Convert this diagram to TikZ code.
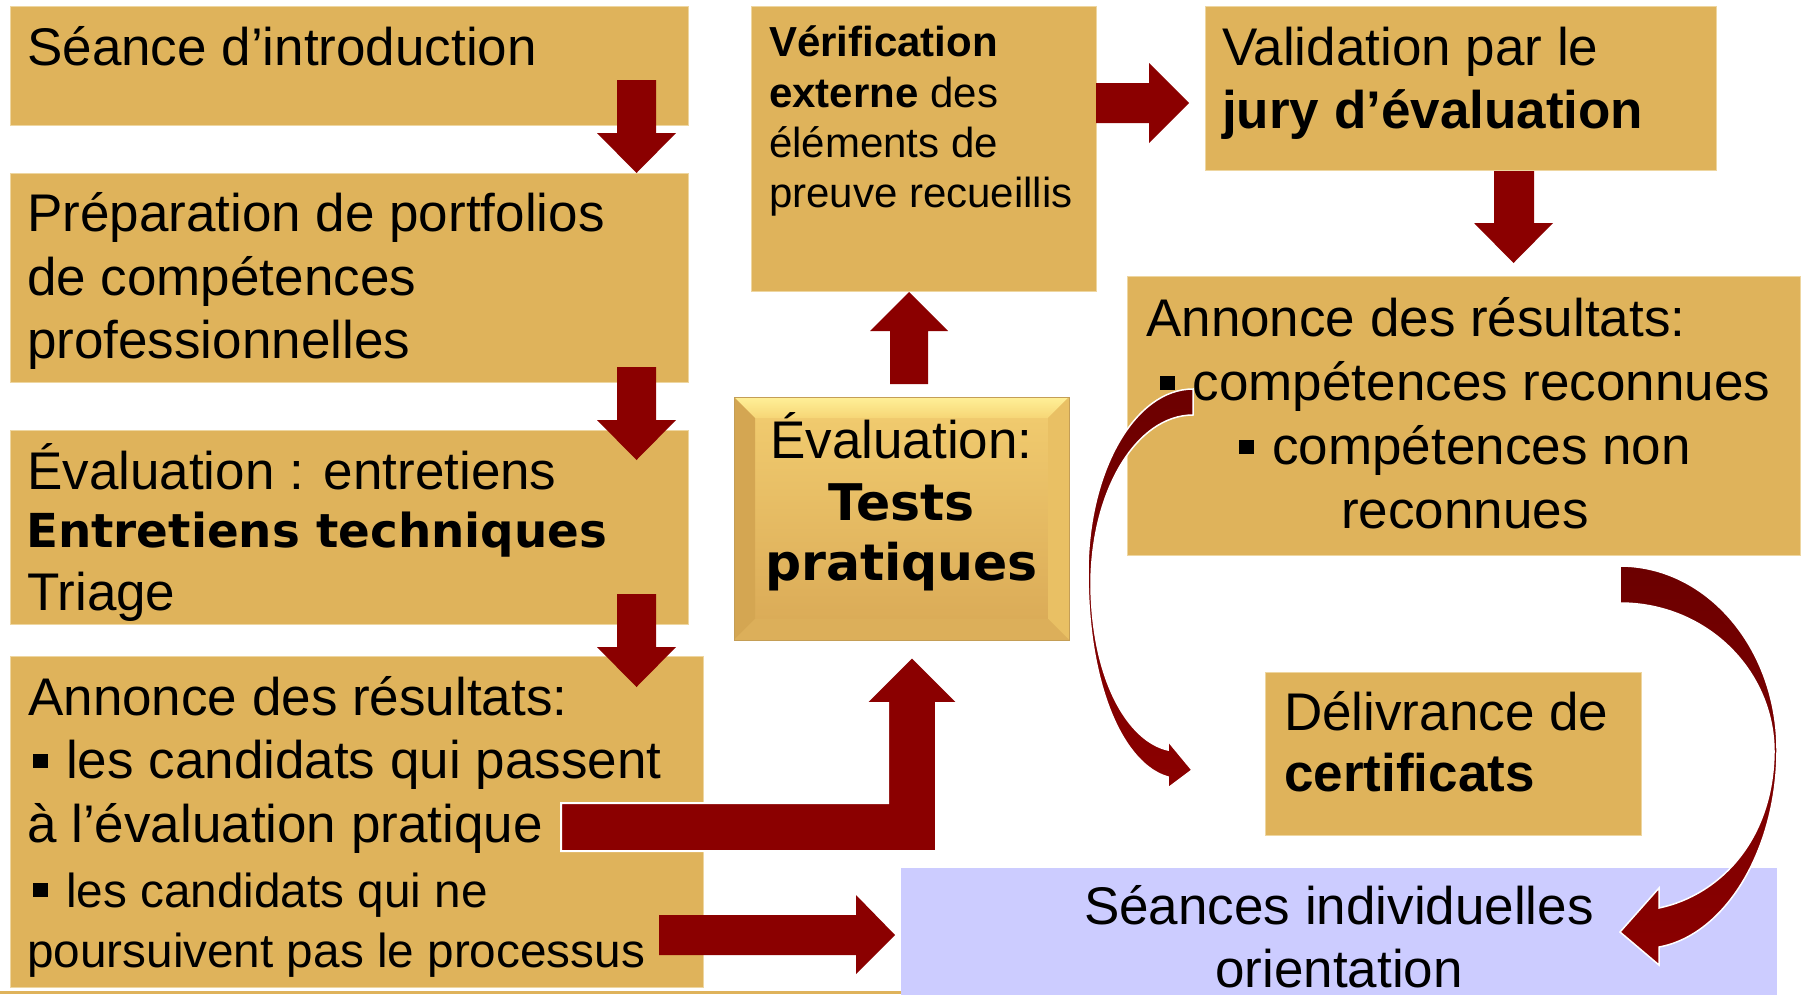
\documentclass[tikz,border=0pt]{standalone}
\usepackage{fontspec}
\setmainfont{Liberation Sans}
\newfontfamily\verdfont{DejaVu Sans}
\definecolor{gold}{RGB}{223,179,91}
\definecolor{goldedge}{RGB}{238,214,160}
\definecolor{lav}{RGB}{204,204,255}
\definecolor{dred}{RGB}{139,0,0}
\definecolor{mred}{RGB}{108,0,0}
\definecolor{evbase}{RGB}{226,184,96}
\definecolor{evfacetop}{RGB}{240,202,110}
\definecolor{evfacebot}{RGB}{219,172,88}
\definecolor{evtoptop}{RGB}{255,240,152}
\definecolor{evtopbot}{RGB}{246,214,118}
\definecolor{evleft}{RGB}{212,166,82}
\definecolor{evright}{RGB}{233,192,100}
\definecolor{evbottom}{RGB}{220,175,90}
\definecolor{evborder}{RGB}{196,158,86}
\newcommand\FMain{\fontsize{53}{63}\selectfont}
\newcommand\FSmall{\fontsize{47.7}{57}\selectfont}
\newcommand\FVer{\fontsize{42}{50}\selectfont}
\newcommand\FVerdA{\verdfont\bfseries\fontsize{46.8}{56}\selectfont}
\newcommand\FVerdB{\verdfont\bfseries\fontsize{50.5}{60}\selectfont}
\newcommand\SqBul{\rule[10.5pt]{15pt}{13.5pt}\hspace{18pt}}
\tikzset{
  box/.style={fill=gold, draw=goldedge, line width=1pt, inner sep=0pt, anchor=north west},
  lbox/.style={fill=lav, inner sep=0pt, anchor=north west},
  txt/.style={inner sep=0pt, anchor=base west, font=\FMain},
  ctxt/.style={inner sep=0pt, anchor=base, font=\FMain},
  blockarrow/.style={fill=dred},
  curvearrow/.style={top color=mred, bottom color=dred, draw=white, line width=1.5pt}
}
\begin{document}
\begin{tikzpicture}[x=1pt,y=-1pt]
\useasboundingbox (0,0) rectangle (1802,994);
\fill[white] (0,0) rectangle (1802,994);

% ---------- boxes ----------
\node[box, minimum width=678, minimum height=119] (b1) at (10,6) {};
\node[box, minimum width=678, minimum height=209] (b2) at (10,173) {};
\node[box, minimum width=678, minimum height=194] (b3) at (10,430) {};
\node[box, minimum width=693, minimum height=331] (b4) at (10,656) {};
\node[box, minimum width=345, minimum height=285] (ver) at (751,6) {};
\node[box, minimum width=511, minimum height=164] (val) at (1205,6) {};
\node[box, minimum width=673, minimum height=279] (annr) at (1127,276) {};
\node[box, minimum width=376, minimum height=163] (deliv) at (1265,672) {};
\node[lbox, minimum width=876, minimum height=130] (sea) at (901,868) {};
\fill[gold] (0,991) rectangle (901,994);

% ---------- bevelled evaluation box ----------
\node[inner sep=0pt, minimum width=335, minimum height=243, anchor=north west, fill=evbase] (ev) at (734,397) {};
\shade[top color=evfacetop, bottom color=evfacebot] (755,418) rectangle (1048,619);
\shade[top color=evtoptop, bottom color=evtopbot] (734,397) -- (1069,397) -- (1048,418) -- (755,418) -- cycle;
\fill[evleft] (734,397) -- (755,418) -- (755,619) -- (734,640) -- cycle;
\fill[evright] (1069,397) -- (1048,418) -- (1048,619) -- (1069,640) -- cycle;
\fill[evbottom] (734,640) -- (755,619) -- (1048,619) -- (1069,640) -- cycle;
\draw[evborder, line width=1pt] (734,397) rectangle (1069,640);

% ---------- texts ----------
\node[txt] (t1) at (27,65) {Séance d’introduction};
\node[txt] (t2a) at (27,231.7) {Préparation de portfolios};
\node[txt] (t2b) at (27,295) {de compétences};
\node[txt] (t2c) at (27,358.3) {professionnelles};
\node[txt] (t3a) at (27,489) {Évaluation : entretiens};
\node[txt, font=\FVerdA] (t3b) at (26,547) {Entretiens techniques};
\node[txt] (t3c) at (27,610) {Triage};
\node[txt] (t4a) at (28,715) {Annonce des résultats:};
\node[txt] (t4b) at (33,778) {\SqBul les candidats qui passent};
\node[txt] (t4c) at (27,842) {à l’évaluation pratique};
\node[txt, font=\FSmall] (t4d) at (33,907) {\SqBul les candidats qui ne};
\node[txt, font=\FSmall] (t4e) at (27,967) {poursuivent pas le processus};

\node[txt, font=\FVer] (tva) at (769,56.7) {\bfseries Vérification};
\node[txt, font=\FVer] (tvb) at (769,107) {\textbf{externe} des};
\node[txt, font=\FVer] (tvc) at (769,157.3) {éléments de};
\node[txt, font=\FVer] (tvd) at (769,207.6) {preuve recueillis};

\node[txt] (tla) at (1222,65) {Validation par le};
\node[txt] (tlb) at (1222,128) {\bfseries jury d’évaluation};

\node[txt] (tra) at (1146,336.7) {Annonce des résultats:};
\node[ctxt] (trb) at (1465,400) {\SqBul compétences reconnues};
\node[ctxt] (trc) at (1465,464) {\SqBul compétences non};
\node[ctxt] (trd) at (1465,528) {reconnues};

\node[ctxt] (tea) at (901.5,458) {Évaluation:};
\node[ctxt, font=\FVerdB] (teb) at (901.5,520) {Tests};
\node[ctxt, font=\FVerdB] (tec) at (901.5,580) {pratiques};

\node[txt] (tda) at (1284,730.7) {Délivrance de};
\node[txt] (tdb) at (1284,791.7) {\bfseries certificats};

\node[ctxt] (tsa) at (1339,924) {Séances individuelles};
\node[ctxt] (tsb) at (1339,987) {orientation};

% ---------- block arrows ----------
\fill[blockarrow] (617,80) -- (656,80) -- (656,133) -- (676,133) -- (636.5,173) -- (597,133) -- (617,133) -- cycle;
\fill[blockarrow] (617,367) -- (656,367) -- (656,420) -- (676,420) -- (636.5,460) -- (597,420) -- (617,420) -- cycle;
\fill[blockarrow] (617,594) -- (656,594) -- (656,647) -- (676,647) -- (636.5,687) -- (597,647) -- (617,647) -- cycle;
\fill[blockarrow] (890,384) -- (928,384) -- (928,331) -- (948,331) -- (909,292) -- (870,331) -- (890,331) -- cycle;
\fill[blockarrow] (1096,83) -- (1149,83) -- (1149,63) -- (1189,103) -- (1149,143) -- (1149,123) -- (1096,123) -- cycle;
\fill[blockarrow] (1494,171) -- (1534,171) -- (1534,223) -- (1553,223) -- (1513.5,263) -- (1474,223) -- (1494,223) -- cycle;
\filldraw[blockarrow, draw=white, line width=2pt] (561,803) -- (888,803) -- (888,703) -- (866,703) -- (912,657) -- (958,703) -- (936,703) -- (936,851) -- (561,851) -- cycle;
\fill[blockarrow] (659,915) -- (856,915) -- (856,895) -- (895,935) -- (856,974) -- (856,955) -- (659,955) -- cycle;

% ---------- curved arrows ----------
\shade[curvearrow] (1193,389) .. controls (1135,389) and (1088,471) .. (1088,572)
  .. controls (1088,690) and (1125,765) .. (1168,777)
  -- (1168,788) -- (1192,770) -- (1168,741) -- (1168,750)
  .. controls (1128,741) and (1092,680) .. (1091,585)
  .. controls (1091,490) and (1137,415) .. (1193,415) -- cycle;
\shade[curvearrow] (1620,566) .. controls (1707,566) and (1777,648) .. (1777,750)
  .. controls (1777,850) and (1725,935) .. (1659,947)
  -- (1659,965) -- (1620,932) -- (1659,888) -- (1659,908)
  .. controls (1720,895) and (1773,840) .. (1774,752)
  .. controls (1774,670) and (1706,603) .. (1620,603) -- cycle;
\end{tikzpicture}
\end{document}
